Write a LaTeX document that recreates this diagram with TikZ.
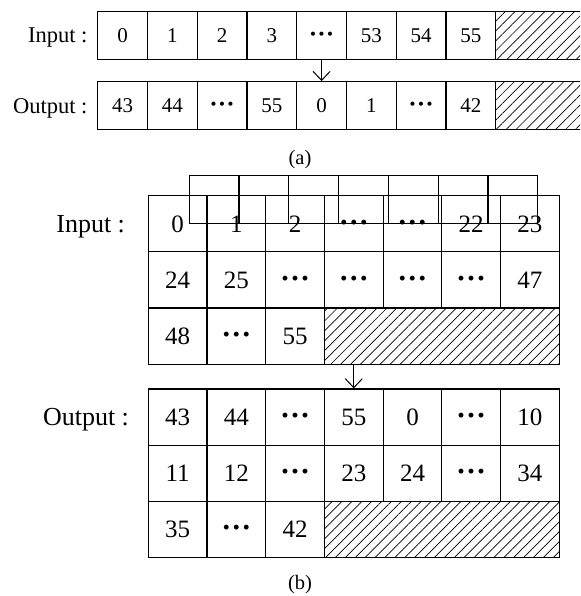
\documentclass[tikz,border=0pt]{standalone}
\usepackage{fontspec}
\setmainfont{Liberation Serif}
\usetikzlibrary{arrows.meta, patterns.meta}

\newcommand{\celldots}{\textbf{\scalebox{1.2}{···}}}

\tikzset{
  acell/.style={draw, line width=1.2pt, minimum width=49.75pt, minimum height=47.6pt, inner sep=0pt, text height=14.2pt, text depth=0pt, font=\fontsize{21}{21}\selectfont},
  bcell/.style={draw, line width=1.2pt, minimum width=58.71pt, minimum height=56.15pt, inner sep=0pt, text height=16.9pt, text depth=0pt, font=\fontsize{25}{25}\selectfont},
  hatchbox/.style={draw, line width=1.2pt, inner sep=0pt, pattern={Lines[angle=45, distance=7pt, line width=0.7pt]}},
  shiftarrow/.style={-{Straight Barb[length=9pt, width=17pt]}, line width=1pt},
}

\begin{document}
\begin{tikzpicture}[x=1pt, y=-1pt]
    \useasboundingbox (0,0) rectangle (580,596);
    \clip (0,0) rectangle (580,596);

    % (a) one row
    \node[anchor=base east, font=\fontsize{22.5}{22.5}\selectfont] (alabin) at (91,42.7) {Input :};
    \node[anchor=base east, font=\fontsize{22.5}{22.5}\selectfont] (alabout) at (91,113.3) {Output :};
    \foreach \lab [count=\i] in {0,1,2,3,\celldots,53,54,55}
        \node[acell] (ain\i) at ({72.825+49.75*\i},35.5) {\lab};
    \foreach \lab [count=\i] in {43,44,\celldots,55,0,1,\celldots,42}
        \node[acell] (aout\i) at ({72.825+49.75*\i},105.5) {\lab};
    \node[hatchbox, minimum width=104.3pt, minimum height=47.6pt] (ainpad) at (547.85,35.5) {};
    \node[hatchbox, minimum width=104.3pt, minimum height=47.6pt] (aoutpad) at (547.85,105.5) {};
    \draw[shiftarrow] (ain5.south) -- (aout5.north);
    \node[font=\fontsize{20.5}{20.5}\selectfont] (acap) at (300,160) {(a)};

    % (b) three rows
    \node[anchor=base east, font=\fontsize{26}{26}\selectfont] (blabin) at (128.5,232.3) {Input :};
    \node[anchor=base east, font=\fontsize{26}{26}\selectfont] (blabout) at (132.5,425) {Output :};
    \foreach \row [count=\r] in {{0,1,2,\celldots,\celldots,22,23},{24,25,\celldots,\celldots,\celldots,\celldots,47},{48,\celldots,55}}
        \foreach \lab [count=\c] in \row
            \node[bcell] (bin\r-\c) at ({118.945+58.71*\c},{167.63+56.15*\r}) {\lab};
    \foreach \row [count=\r] in {{43,44,\celldots,55,0,\celldots,10},{11,12,\celldots,23,24,\celldots,34},{35,\celldots,42}}
        \foreach \lab [count=\c] in \row
            \node[bcell] (bout\r-\c) at ({118.945+58.71*\c},{360.93+56.15*\r}) {\lab};
    \node[hatchbox, minimum width=234.84pt, minimum height=56.15pt] (binpad) at (441.87,336.08) {};
    \node[hatchbox, minimum width=234.84pt, minimum height=56.15pt] (boutpad) at (441.87,529.38) {};

    % boxes over the first row
    \foreach \i in {0,...,6}
        \draw[line width=1.2pt] ({189.3+49.77*\i},175.7) rectangle ++(49.77,47.6);

    \draw[shiftarrow] (bin1-4 |- binpad.south) -- (bout1-4.north);
    \node[font=\fontsize{20.5}{20.5}\selectfont] (bcap) at (300,585) {(b)};
\end{tikzpicture}
\end{document}
